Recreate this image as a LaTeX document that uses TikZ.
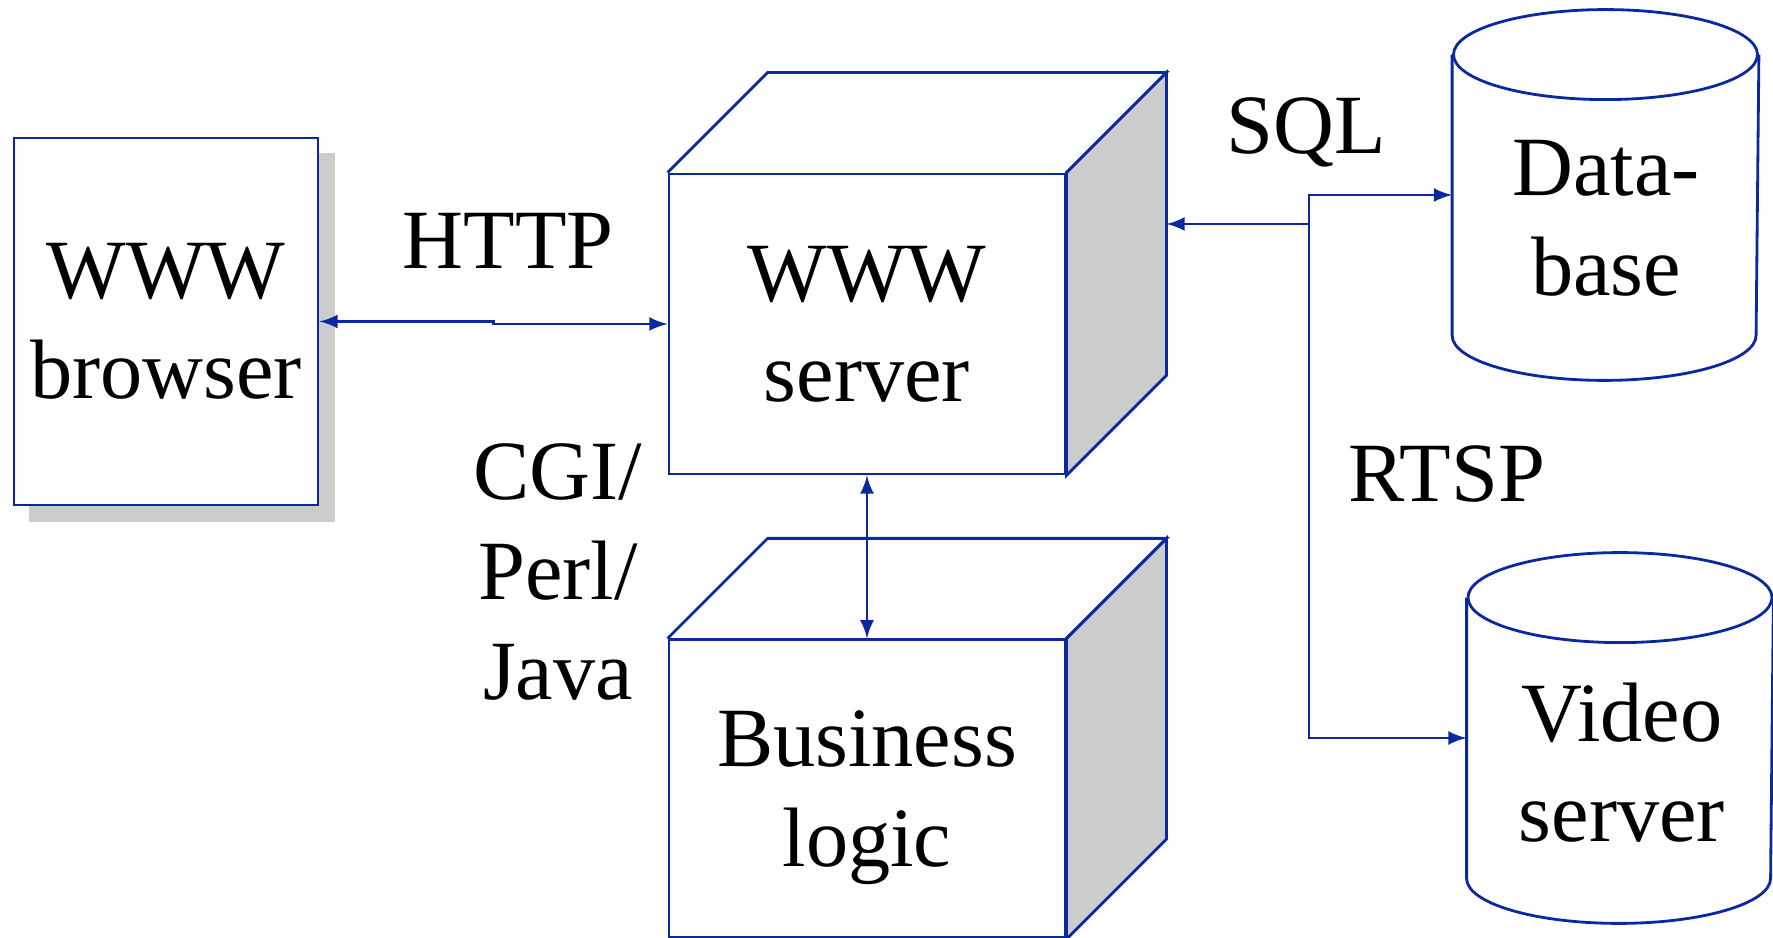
\documentclass[tikz,border=0pt]{standalone}
\usepackage{fontspec}
\setmainfont{Liberation Serif}
\usetikzlibrary{calc,arrows,backgrounds,positioning}
\definecolor{netblue}{RGB}{10,40,160}

\begin{document}
\begin{tikzpicture}[x=0.1mm,y=-0.1mm,font=\fontsize{24}{28.5}\selectfont]
    \useasboundingbox (0,0) rectangle (1773,938);
    \begin{scope}[every node/.style={rectangle,draw=netblue,line width=0.8pt,fill=white,align=center}]
        %client
        \node[minimum width=30.4mm,minimum height=36.7mm] (browser) at (166,321.5) {WWW\\browser};
    
        %servers
        \node[minimum width=39.6mm,minimum height=30mm] (srv) at (867,324) {WWW\\server};
        \node[minimum width=39.6mm,minimum height=29.8mm,below = 16.3mm of srv] (biz) {};
    
        %storage
        \node[draw=none,fill=none,minimum width=30.4mm,minimum height=36.8mm] (db) at (1605.5,195) {};
        \node[draw=none,fill=none,minimum width=30.4mm,minimum height=36.8mm] (video) at (1620,738) {};
    \end{scope}
    
    %shadow
    \begin{scope}[on background layer]
        \fill[black!20] ([shift={(16,16)}]browser.south west) rectangle ([shift={(16,16)}]browser.north east);
    \end{scope}
    
    %cubes and cylinders
    \begin{scope}[draw=netblue,line width=0.8pt]
        \foreach \c in {srv,biz}{
            \filldraw[fill=black!20] (\c.north east) -- ++(100,-100) -- ([shift={(100,-100)}]\c.south east) -- (\c.south east) -- cycle;
            \draw (\c.north west) -- ++(100,-100) -- ([shift={(100,-100)}]\c.north east) -- (\c.north east);
        }
        \foreach \c in {db,video}{
            \draw ([shift={(0,45)}]\c.north west) -- ([shift={(0,-45)}]\c.south west)
                arc[start angle=180,end angle=360,x radius=15.2mm,y radius=4.5mm] -- ([shift={(0,45)}]\c.north east);
            \draw ([shift={(0,45)}]\c.north) ellipse[x radius=15.2mm,y radius=4.5mm];
        }
    \end{scope}
    
    %texts
    \begin{scope}[every node/.style={align=center}]
        \node (biztext) at ([shift={(0,9)}]biz.center) {Business\\logic};
        \node (dbtext) at (1606,218) {Data-\\base};
        \node (videotext) at (1622,763) {Video\\server};
        \node[anchor=base] (http) at (508,269) {HTTP};
        \node[anchor=base] (sql) at (1306,154) {SQL};
        \node[anchor=base] (rtsp) at (1447,502) {RTSP};
        \node (cgi) at (558,572) {CGI/\\Perl/\\Java};
    \end{scope}
    
    %links
    \begin{scope}[netblue,line width=0.8pt]
        \coordinate (httpjog) at ($(browser.east)!0.5!(srv.west)$);
        \draw[latex-latex] (browser.east) -| (httpjog) |- (srv.west);
        \draw[latex-latex] (srv.south) -- (biz.north);
    
        \coordinate (srvback) at ([shift={(100,-100)}]srv.north east);
        \coordinate (dbjoin) at (1309,224);
        \draw[-latex] (dbjoin) -- (dbjoin -| srvback);
        \draw[-latex] (dbjoin) |- (db);
        \draw[-latex] (dbjoin) |- (video);
    \end{scope}
\end{tikzpicture}
\end{document}
